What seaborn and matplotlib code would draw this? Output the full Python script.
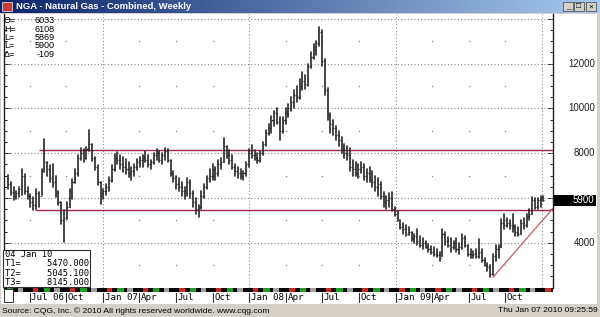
import numpy as np
import pandas as pd
import matplotlib
matplotlib.use("Agg")
import matplotlib.pyplot as plt
import matplotlib.dates as mdates
from matplotlib.patches import Rectangle
from matplotlib.lines import Line2D
from matplotlib.colors import LinearSegmentedColormap
from matplotlib.ticker import MultipleLocator
from matplotlib.transforms import blended_transform_factory, offset_copy
import seaborn as sns

# ---------------- data (weekly bars, price x 1000) ----------------
first_week = "2006-05-08"
opens = [6900, 6600, 6250, 6100, 6200, 6400, 7000, 6300, 6100, 5800,
         5700, 6200, 6100, 7200, 7600, 7300, 6900, 6700, 6200, 5800,
         5000, 5100, 5600, 6300, 6700, 7100, 7800, 8000, 7800, 8200,
         8400, 7800, 7400, 6700, 6200, 6300, 6500, 6800, 7300, 7800,
         7700, 7500, 7400, 7300, 7100, 7200, 7400, 7600, 7700, 7800,
         7700, 7500, 7600, 7900, 8000, 7700, 7900, 8100, 7700, 7100,
         6900, 6600, 6500, 6300, 6200, 6700, 6200, 5800, 5500, 5600,
         6100, 6500, 6900, 7000, 7300, 7100, 7500, 7600, 8300, 7900,
         7700, 7400, 7200, 7100, 7000, 7100, 7500, 8000, 7900, 7800,
         7700, 8000, 8400, 8900, 9100, 9500, 9800, 9400, 9000, 9500,
         9800, 10000, 10300, 10600, 10500, 11000, 11200, 11100, 11900, 12300,
         12600, 12900, 13400, 12100, 10800, 9700, 9300, 9100, 8800, 8600,
         8200, 8000, 7900, 7400, 7300, 7100, 7300, 7400, 7000, 7100,
         6800, 6700, 6500, 6600, 6100, 5800, 5900, 6000, 5500, 5300,
         5000, 4700, 4600, 4400, 4500, 4200, 4300, 4100, 3900, 4000,
         3800, 3700, 3600, 3500, 3450, 3400, 4400, 4100, 3900, 3800,
         4000, 3700, 3800, 4200, 3900, 3500, 3450, 3500, 3400, 3600,
         3250, 3000, 2900, 2600, 3400, 3700, 3800, 4900, 4800, 4900,
         4800, 4700, 4500, 4400, 4900, 4800, 5200, 5300, 5900, 5600,
         5900, 6033]
highs = [7030, 6700, 6480, 6330, 6480, 7300, 7080, 6480, 6190, 6040,
         6410, 6260, 7300, 8610, 7600, 7450, 7520, 7000, 6300, 5800,
         5440, 5810, 6410, 6850, 7300, 7900, 8220, 8190, 8270, 9040,
         8400, 7820, 7450, 6700, 6410, 6630, 6930, 7450, 7970, 8040,
         7900, 7820, 7750, 7600, 7380, 7520, 7750, 7820, 7900, 8100,
         7900, 7700, 8000, 8200, 8100, 8000, 8250, 8200, 7700, 7200,
         7000, 6900, 6700, 6500, 6900, 6800, 6300, 6000, 5700, 6300,
         6600, 7000, 7300, 7500, 7400, 7700, 7800, 8670, 8300, 8150,
         7900, 7500, 7400, 7300, 7200, 7600, 8200, 8370, 8150, 8000,
         8100, 8500, 9040, 9300, 9640, 9900, 10000, 9600, 9600, 10000,
         10200, 10500, 10800, 11000, 11300, 11600, 11500, 12000, 12500, 12860,
         13000, 13650, 13500, 12200, 10900, 9800, 9500, 9200, 9000, 8700,
         8400, 8300, 8250, 7700, 7600, 7500, 7600, 7500, 7300, 7400,
         7200, 7000, 6900, 6700, 6250, 6100, 6200, 6250, 5600, 5400,
         5000, 4900, 4800, 4700, 4500, 4400, 4600, 4300, 4200, 4100,
         3950, 3850, 3800, 3700, 3600, 4630, 4500, 4250, 4200, 4100,
         4200, 4000, 4400, 4300, 3900, 3700, 3650, 3700, 4150, 3700,
         3300, 3100, 3000, 3500, 3880, 3900, 5050, 5300, 5100, 5000,
         5300, 4800, 4700, 5000, 5100, 5300, 5500, 6050, 6000, 6000,
         6080, 6108]
lows = [6410, 6110, 5890, 5960, 6040, 6110, 6190, 5960, 5590, 5440,
        5520, 5590, 6110, 7150, 7000, 6700, 6480, 6040, 5670, 4850,
        4030, 5070, 5590, 5960, 6650, 7000, 7700, 7600, 7750, 8100,
        7670, 7230, 6560, 5740, 5960, 6110, 6330, 6700, 7200, 7520,
        7300, 7150, 7080, 6930, 6780, 7000, 7230, 7380, 7400, 7600,
        7400, 7300, 7500, 7700, 7600, 7500, 7700, 7600, 6990, 6700,
        6400, 6300, 6100, 5950, 6100, 6000, 5600, 5300, 5150, 5500,
        6000, 6400, 6700, 6800, 6800, 7000, 7300, 7600, 7800, 7500,
        7300, 7000, 6900, 6850, 6800, 7000, 7400, 7800, 7700, 7550,
        7600, 7900, 8300, 8800, 8900, 9200, 9300, 8600, 8900, 9300,
        9600, 9900, 10000, 10300, 10400, 10800, 10850, 11000, 11800, 12200,
        12400, 12800, 11900, 10600, 9500, 8900, 8800, 8600, 8300, 8000,
        7800, 7700, 7200, 7000, 7000, 6900, 7100, 6800, 6700, 6700,
        6500, 6300, 6100, 5950, 5600, 5500, 5600, 5400, 5200, 4950,
        4600, 4400, 4300, 4350, 4100, 4000, 3900, 3800, 3700, 3750,
        3600, 3500, 3400, 3350, 3200, 3400, 3900, 3800, 3600, 3700,
        3600, 3500, 3700, 3800, 3400, 3300, 3300, 3300, 3300, 3150,
        2950, 2750, 2460, 2550, 3200, 3300, 3800, 4600, 4700, 4600,
        4500, 4300, 4300, 4400, 4600, 4700, 5000, 5300, 5500, 5500,
        5600, 5869]
closes = [6600, 6250, 6100, 6200, 6400, 7000, 6300, 6100, 5800, 5700,
          6200, 6100, 7200, 7600, 7300, 6900, 6700, 6200, 5800, 5000,
          5100, 5600, 6300, 6700, 7100, 7800, 8000, 7800, 8200, 8400,
          7800, 7400, 6700, 6200, 6300, 6500, 6800, 7300, 7800, 7700,
          7500, 7400, 7300, 7100, 7200, 7400, 7600, 7700, 7800, 7700,
          7500, 7600, 7900, 8000, 7700, 7900, 8100, 7700, 7100, 6900,
          6600, 6500, 6300, 6200, 6700, 6200, 5800, 5500, 5600, 6100,
          6500, 6900, 7000, 7300, 7100, 7500, 7600, 8300, 7900, 7700,
          7400, 7200, 7100, 7000, 7100, 7500, 8000, 7900, 7800, 7700,
          8000, 8400, 8900, 9100, 9500, 9800, 9400, 9000, 9500, 9800,
          10000, 10300, 10600, 10500, 11000, 11200, 11100, 11900, 12300, 12600,
          12900, 13400, 12100, 10800, 9700, 9300, 9100, 8800, 8600, 8200,
          8000, 7900, 7400, 7300, 7100, 7300, 7400, 7000, 7100, 6800,
          6700, 6500, 6600, 6100, 5800, 5900, 6000, 5500, 5300, 5000,
          4700, 4600, 4400, 4500, 4200, 4300, 4100, 3900, 4000, 3800,
          3700, 3600, 3500, 3450, 3300, 4400, 4100, 3900, 3800, 4000,
          3700, 3800, 4200, 3900, 3500, 3450, 3500, 3400, 3600, 3250,
          3000, 2900, 2600, 3400, 3700, 3800, 4900, 4800, 4900, 4800,
          4700, 4500, 4400, 4900, 4800, 5200, 5300, 5900, 5600, 5900,
          6009, 5900]

# study lines
t_levels = [5470.0, 8145.0]            # T1, T3 horizontal lines
t_starts = ["2006-07-14", "2006-07-24"]
trend_dates = ["2009-08-31", "2010-01-04"]
trend_values = [2460.0, 5045.1]          # T2 trend line

# axis texts
x_tick_dates = ["2006-07-01", "2006-10-01", "2007-01-01", "2007-04-01", "2007-07-01",
                "2007-10-01", "2008-01-01", "2008-04-01", "2008-07-01", "2008-10-01",
                "2009-01-01", "2009-04-01", "2009-07-01", "2009-10-01"]
x_tick_labels = ["Jul 06", "Oct", "Jan 07", "Apr", "Jul", "Oct", "Jan 08", "Apr",
                 "Jul", "Oct", "Jan 09", "Apr", "Jul", "Oct"]
y_label_values = [4000, 8000, 10000, 12000]
last_value = 5900
info_top = [("O=", "6033"), ("H=", "6108"), ("L=", "5869"), ("L=", "5900"), ("\u0394=", "-109")]
info_bottom = ["04 Jan 10", "T1=     5470.000", "T2=     5045.100", "T3=     8145.000"]

# ---------------- figure ----------------
sns.set_theme(style="white")
plt.rcParams['font.family'] = ['Liberation Sans', 'DejaVu Sans']
MONO = ['DejaVu Sans Mono']

W, H = 600, 317
fig = plt.figure(figsize=(W / 100, H / 100), dpi=100, facecolor="#d4d0c8")
def fx(px): return px / W
def fy(py): return 1 - py / H

# white chart panel
fig.add_artist(Rectangle((fx(1), fy(304)), fx(597) - fx(1), fy(14) - fy(304),
                         transform=fig.transFigure, facecolor="white", edgecolor="none", zorder=0))

# title bar
tax = fig.add_axes([0, fy(13), 1, 13 / H])
grad = np.linspace(0, 1, 256).reshape(1, -1)
tax.imshow(grad, aspect="auto", extent=[0, 1, 0, 1],
           cmap=LinearSegmentedColormap.from_list("tb", ["#0a246a", "#a6caf0"]))
tax.set_axis_off()
fig.add_artist(Rectangle((fx(2), fy(11)), 10 / W, 9 / H, transform=fig.transFigure,
                         facecolor="#c83c3c", edgecolor="#f0f0f0", lw=0.5, zorder=5))
fig.text(fx(16), fy(6.5), "NGA - Natural Gas - Combined, Weekly", color="white",
         fontsize=6.8, fontweight="bold", va="center", ha="left", zorder=6)
for (x0, sym) in [(563, "_"), (574, "\u25a1"), (586, "\u00d7")]:
    fig.add_artist(Rectangle((fx(x0), fy(11)), 10 / W, 9 / H, transform=fig.transFigure,
                             facecolor="#d4d0c8", edgecolor="#404040", lw=0.5, zorder=5))
    fig.text(fx(x0 + 5), fy(7), sym, fontsize=6, ha="center", va="center", color="black", zorder=6)

# main axes
ax = fig.add_axes([fx(4), fy(288), fx(553) - fx(4), fy(14) - fy(288)])
ax.set_facecolor("white")

weeks = pd.date_range(first_week, periods=len(closes), freq="W-MON")
bars = pd.DataFrame({"bar": np.arange(len(closes)), "week": weeks,
                     "high": highs, "low": lows})
long = bars.melt(id_vars=["bar", "week"], value_vars=["high", "low"],
                 var_name="end", value_name="price")
BAR = "#262626"
sns.lineplot(data=long, x="week", y="price", units="bar", estimator=None, sort=False,
             color=BAR, lw=1.2, ax=ax, legend=False, zorder=4)
wk = mdates.date2num(weeks)
ax.hlines(opens, wk - 2.6, wk, color=BAR, lw=0.9, zorder=4)
ax.hlines(closes, wk, wk + 2.6, color=BAR, lw=0.9, zorder=4)

xmin, xmax = mdates.date2num(pd.Timestamp("2006-04-28")), mdates.date2num(pd.Timestamp("2010-01-28"))
ax.set_xlim(xmin, xmax)
ax.set_ylim(1980, 14210)
ax.set_xlabel("")
ax.set_ylabel("")

# grid
GRID = "#8a8a8a"
for v in range(4000, 14001, 2000):
    ax.axhline(v, color=GRID, lw=0.8, ls=(0, (1, 2)), zorder=1)
for d in ["2007-01-01", "2008-01-01", "2009-01-01", "2010-01-01"]:
    ax.axvline(mdates.date2num(pd.Timestamp(d)), color=GRID, lw=0.8, ls=(0, (1, 2)), zorder=1)
qd = [mdates.date2num(pd.Timestamp(d)) for d, l in zip(x_tick_dates, x_tick_labels) if not l.startswith("Jan")]
dots_x, dots_y = np.meshgrid(qd, np.arange(3000, 14000, 2000))
ax.scatter(dots_x.ravel(), dots_y.ravel(), s=1.2, color="#909090", zorder=1, linewidths=0)

# study lines
for lvl, st in zip(t_levels, t_starts):
    ax.hlines(lvl, mdates.date2num(pd.Timestamp(st)), xmax, color="#a02848", lw=1.0, zorder=3)
td = mdates.date2num(pd.to_datetime(trend_dates))
slope = (trend_values[1] - trend_values[0]) / (td[1] - td[0])
ax.plot([td[0], xmax], [trend_values[0], trend_values[0] + slope * (xmax - td[0])],
        color="#c06060", lw=0.9, zorder=3)

# spines / ticks
for s in ["top", "bottom"]:
    ax.spines[s].set_visible(False)
for s in ["left", "right"]:
    ax.spines[s].set_visible(True)
    ax.spines[s].set_color("#202020")
    ax.spines[s].set_linewidth(1.0)
ax.yaxis.set_major_locator(MultipleLocator(2000))
ax.yaxis.set_minor_locator(MultipleLocator(500))
ax.tick_params(axis="y", which="both", direction="in", left=True, right=True,
               labelleft=False, labelright=False, color="#202020", width=0.7)
ax.tick_params(axis="y", which="major", length=4)
ax.tick_params(axis="y", which="minor", length=2.2)
ax.tick_params(axis="x", which="both", bottom=False, labelbottom=False)
ax.grid(False)

# right value labels
bt = blended_transform_factory(fig.transFigure, ax.transData)
for v in y_label_values:
    ax.text(fx(595), v, f"{v}", transform=bt, ha="right", va="center", fontsize=7,
            color="#202020", clip_on=False)
ax.add_patch(Rectangle((fx(554), last_value - 240), fx(596) - fx(554), 480, transform=bt,
                       facecolor="black", edgecolor="none", clip_on=False, zorder=10))
ax.text(fx(594), last_value, f"{last_value}", transform=bt, ha="right", va="center",
        fontsize=7, color="white", clip_on=False, zorder=11)

# info box (top-left)
for k, (lab, val) in enumerate(info_top):
    fig.text(fx(4), fy(20.5 + 8.5 * k), lab, fontsize=6.5, va="center", ha="left", color="black")
    fig.text(fx(55), fy(20.5 + 8.5 * k), val, fontsize=6.5, va="center", ha="right", color="black")

# info box (bottom-left)
fig.add_artist(Rectangle((fx(3), fy(287)), fx(90) - fx(3), fy(250) - fy(287),
                         transform=fig.transFigure, facecolor="white", edgecolor="#303030",
                         lw=0.8, zorder=8))
for k, line in enumerate(info_bottom):
    fig.text(fx(5), fy(254.5 + 9.3 * k), line, fontsize=6.3, family=MONO,
             va="center", ha="left", color="black", zorder=9)
fig.add_artist(Rectangle((fx(4), fy(302)), 9 / W, 13 / H, transform=fig.transFigure,
                         facecolor="white", edgecolor="#303030", lw=0.7, zorder=8))

# time band and labels
bax = fig.add_axes([fx(4), fy(291.5), fx(553) - fx(4), 3.5 / H], sharex=ax)
bax.set_axis_off()
bax.set_ylim(0, 1)
bax.axhspan(0, 1, color="black")
months = pd.date_range("2006-04-01", "2010-02-01", freq="MS")
for m in months:
    q = (m.month - 1) % 3
    m0 = mdates.date2num(m)
    if q == 0:
        bax.axvspan(m0 + 8, m0 + 22, color="#c82828", lw=0)
    elif q == 1:
        bax.axvspan(m0 + 4, m0 + 20, color="#20a020", lw=0)
    else:
        bax.axvspan(m0 + 0, m0 + 14, color="#a0a0a0", lw=0)

tt = blended_transform_factory(ax.transData, fig.transFigure)
for d, lab in zip(x_tick_dates, x_tick_labels):
    xd = mdates.date2num(pd.Timestamp(d))
    fig.add_artist(Line2D([xd, xd], [fy(293), fy(302)], transform=tt, color="#303030", lw=0.8))
    ax.text(xd, fy(297.5), lab, transform=offset_copy(tt, fig=fig, x=1.5, units="dots"),
            fontsize=6.6, family=MONO, ha="left", va="center", color="black", clip_on=False)

# footer
fig.text(fx(2), fy(311), "Source: CQG, Inc. \u00a9 2010 All rights reserved worldwide. www.cqg.com",
         fontsize=6.1, ha="left", va="center", color="black")
fig.text(fx(598), fy(311), "Thu Jan 07 2010 09:25:59", fontsize=6.1, ha="right",
         va="center", color="black")

fig.savefig("out.png", dpi=100, facecolor=fig.get_facecolor())
